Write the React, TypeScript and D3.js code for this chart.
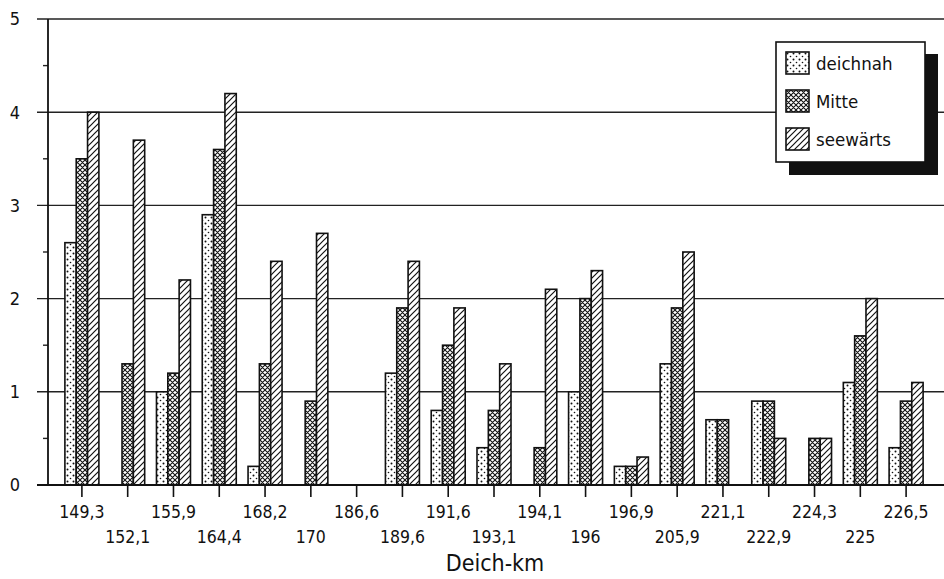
import React from "react";
import * as d3 from "d3";

const categories = ["149,3","152,1","155,9","164,4","168,2","170","186,6","189,6","191,6","193,1","194,1","196","196,9","205,9","221,1","222,9","224,3","225","226,5"];
const deichnah = [2.6,0,1.0,2.9,0.2,0,0,1.2,0.8,0.4,0,1.0,0.2,1.3,0.7,0.9,0,1.1,0.4];
const mitte = [3.5,1.3,1.2,3.6,1.3,0.9,0,1.9,1.5,0.8,0.4,2.0,0.2,1.9,0.7,0.9,0.5,1.6,0.9];
const seewaerts = [4.0,3.7,2.2,4.2,2.4,2.7,0,2.4,1.9,1.3,2.1,2.3,0.3,2.5,0,0.5,0.5,2.0,1.1];
const seriesNames = ["deichnah","Mitte","seewärts"];
const yTicks = [0,1,2,3,4,5];
const yMinor = [0.5,1.5,2.5,3.5,4.5];

const W = 944, H = 579;
const FONT = "'DejaVu Sans Condensed', 'Liberation Sans Narrow', 'DejaVu Sans', sans-serif";

export default function App() {
  const x = d3.scaleBand<string>().domain(categories).range([59, 929]).padding(0);
  const y = d3.scaleLinear().domain([0, 5]).range([485, 19]);
  const sub = d3.scaleBand<string>().domain(seriesNames).range([-17, 17]).padding(0);
  const data = [deichnah, mitte, seewaerts];
  const fills = ["url(#pDots)", "url(#pCross)", "url(#pDiag)"];
  const axisX = 48;
  const ink = "#111";

  return (
    <svg width={W} height={H} style={{ position: "absolute", left: 0, top: 0, background: "#fff" }} fontFamily={FONT}>
      <defs>
        <pattern id="pDots" patternUnits="userSpaceOnUse" width="6" height="6">
          <rect width="6" height="6" fill="#fff" />
          <circle cx="1.5" cy="1.5" r="1" fill={ink} />
          <circle cx="4.5" cy="4.5" r="0.8" fill={ink} />
        </pattern>
        <pattern id="pCross" patternUnits="userSpaceOnUse" width="5" height="5">
          <rect width="5" height="5" fill="#fff" />
          <path d="M0,0L5,5M5,0L0,5M-1,4L1,6M4,-1L6,1M-1,1L1,-1M4,6L6,4" stroke={ink} strokeWidth="1.1" />
        </pattern>
        <pattern id="pDiag" patternUnits="userSpaceOnUse" width="6" height="6">
          <rect width="6" height="6" fill="#fff" />
          <path d="M0,6L6,0M-1,1L1,-1M5,7L7,5" stroke={ink} strokeWidth="1.2" />
        </pattern>
      </defs>

      {/* gridlines */}
      {yTicks.filter(t => t > 0).map(t => (
        <line key={"g" + t} x1={37} x2={W} y1={y(t)} y2={y(t)} stroke="#222" strokeWidth={1.4} />
      ))}
      {yMinor.map(t => (
        <line key={"m" + t} x1={43} x2={axisX} y1={y(t)} y2={y(t)} stroke="#222" strokeWidth={1.4} />
      ))}
      {yTicks.map(t => (
        <text key={"yl" + t} x={20} y={y(t)} dy="0.36em" textAnchor="end" fontSize={18} fill={ink}>{t}</text>
      ))}

      {/* bars */}
      {categories.map((c, i) => {
        const cx = (x(c) as number) + x.bandwidth() / 2;
        return seriesNames.map((s, k) => {
          const v = data[k][i];
          if (!v) return null;
          return (
            <rect key={c + s} x={cx + (sub(s) as number)} width={sub.bandwidth()} y={y(v)} height={y(0) - y(v)}
              fill={fills[k]} stroke={ink} strokeWidth={1.6} />
          );
        });
      })}

      {/* axes */}
      <line x1={axisX} x2={axisX} y1={19} y2={485} stroke={ink} strokeWidth={1.8} />
      <line x1={37} x2={W} y1={485} y2={485} stroke={ink} strokeWidth={1.8} />
      {categories.map((c, i) => {
        const cx = (x(c) as number) + x.bandwidth() / 2;
        return (
          <g key={"xt" + c}>
            <line x1={cx} x2={cx} y1={485} y2={497} stroke={ink} strokeWidth={1.6} />
            <text x={cx} y={i % 2 === 0 ? 518 : 543} textAnchor="middle" fontSize={17.5} fill={ink}>{c}</text>
          </g>
        );
      })}
      <text x={495} y={571} textAnchor="middle" fontSize={23} fill={ink}>Deich-km</text>

      {/* legend */}
      <rect x={789} y={54} width={149} height={121} fill={ink} />
      <rect x={776} y={42} width={149} height={120} fill="#fff" stroke={ink} strokeWidth={1.6} />
      {seriesNames.map((s, k) => (
        <g key={"lg" + s} transform={`translate(786, ${52 + k * 38})`}>
          <rect width={23} height={22} fill={fills[k]} stroke={ink} strokeWidth={1.6} />
          <text x={30} y={11} dy="0.36em" fontSize={18.5} fill={ink}>{s}</text>
        </g>
      ))}
    </svg>
  );
}
